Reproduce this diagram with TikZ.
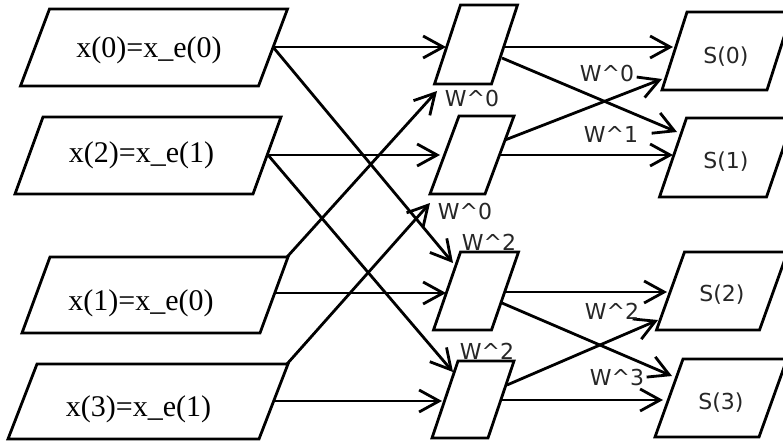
\documentclass[tikz,border=0pt]{standalone}
\usepackage{fontspec}
\setmainfont{Liberation Serif}
\newfontfamily\lblfont{DejaVu Sans}
\usetikzlibrary{arrows.meta}
\newcommand\pgram[6]{% name, cx, cy, w, h, slant
  \draw[box] ({#2-#4/2+#6/2},{#3-#5/2}) -- ({#2+#4/2+#6/2},{#3-#5/2})
    -- ({#2+#4/2-#6/2},{#3+#5/2}) -- ({#2-#4/2-#6/2},{#3+#5/2}) -- cycle;
  \coordinate (#1) at (#2,#3);}
\begin{document}
\begin{tikzpicture}[x=1pt,y=-1pt,
  box/.style={draw=black, line width=2.8pt, fill=white, line join=miter},
  conn/.style={line width=2.8pt, -{Straight Barb[length=20pt,width=22pt]}},
  intext/.style={font=\fontsize{30}{32}\selectfont, inner sep=0pt},
  outtext/.style={font=\lblfont\fontsize{22}{24}\selectfont, inner sep=0pt, text=black!85},
  wlbl/.style={font=\lblfont\fontsize{22}{24}\selectfont, inner sep=0pt, text=black!85}]
\useasboundingbox (0,0) rectangle (783,441);
\begin{scope}
\clip (0,0) rectangle (783,441);
% boxes
\pgram{X0}{154}{47.5}{238}{77}{29}
\pgram{X2}{148}{155.5}{238}{77}{28}
\pgram{X1}{155}{295}{238}{76}{28}
\pgram{X3}{148}{401.5}{251}{75}{29}
\pgram{B1}{476}{44.5}{57}{79}{26}
\pgram{B2}{472}{155}{55}{78}{29}
\pgram{B3}{476}{291}{58}{78}{27}
\pgram{B4}{473}{399.5}{56}{77}{26}
\pgram{S0}{727}{51}{105}{78}{25}
\pgram{S1}{726.5}{157.5}{107}{79}{27}
\pgram{S2}{722}{291}{103}{78}{28}
\pgram{S3}{721}{398}{104}{78}{28}
\end{scope}
% texts
\node[intext] (tx0) at (149,50.5) {x(0)=x\_e(0)};
\node[intext] (tx2) at (141.5,155.5) {x(2)=x\_e(1)};
\node[intext] (tx1) at (141,303) {x(1)=x\_e(0)};
\node[intext] (tx3) at (138.5,409) {x(3)=x\_e(1)};
\node[outtext] (ts0) at (726,57) {S(0)};
\node[outtext] (ts1) at (726,162) {S(1)};
\node[outtext] (ts2) at (722,295) {S(2)};
\node[outtext] (ts3) at (721,403) {S(3)};
% ports
\coordinate (x0e) at (273,47);
\coordinate (x2e) at (268,155);
\coordinate (x1e) at (274,293);
\coordinate (x1c) at (287,257);
\coordinate (x3e) at (274,401);
\coordinate (x3c) at (287,364);
\coordinate (b1w) at (446,47);
\coordinate (b1s) at (437,91);
\coordinate (b2w) at (440,155);
\coordinate (b2s) at (430,203);
\coordinate (b3n) at (453,263);
\coordinate (b3w) at (446,293);
\coordinate (b4n) at (453,372);
\coordinate (b4w) at (442,401);
\coordinate (b1e) at (505,47);
\coordinate (b1d) at (502,58);
\coordinate (b2u) at (505,140);
\coordinate (b2e) at (500,155);
\coordinate (b3e) at (504,292);
\coordinate (b3d) at (502,303);
\coordinate (b4u) at (507,385);
\coordinate (b4e) at (502,400);
\coordinate (s0w) at (673,47);
\coordinate (s0l) at (662,79);
\coordinate (s1u) at (677,132);
\coordinate (s1w) at (673,155);
\coordinate (s2w) at (667,292);
\coordinate (s2l) at (658,320);
\coordinate (s3u) at (672,376);
\coordinate (s3w) at (663,400);
% first stage
\draw[conn] (x0e) -- (b1w);
\draw[conn] (x0e) -- (b3n);
\draw[conn] (x2e) -- (b2w);
\draw[conn] (x2e) -- (b4n);
\draw[conn] (x1e) -- (b3w);
\draw[conn] (x1c) -- (b1s);
\draw[conn] (x3e) -- (b4w);
\draw[conn] (x3c) -- (b2s);
% second stage
\draw[conn] (b1e) -- (s0w);
\draw[conn] (b1d) -- (s1u);
\draw[conn] (b2u) -- (s0l);
\draw[conn] (b2e) -- (s1w);
\draw[conn] (b3e) -- (s2w);
\draw[conn] (b3d) -- (s3u);
\draw[conn] (b4u) -- (s2l);
\draw[conn] (b4e) -- (s3w);
% twiddle labels
\node[wlbl] (w1) at (472,98) {W\^{}0};
\node[wlbl] (w2) at (465,211) {W\^{}0};
\node[wlbl] (w3) at (489,242) {W\^{}2};
\node[wlbl] (w4) at (487,351) {W\^{}2};
\node[wlbl] (w5) at (607,73) {W\^{}0};
\node[wlbl] (w6) at (611,134) {W\^{}1};
\node[wlbl] (w7) at (612,311) {W\^{}2};
\node[wlbl] (w8) at (617,377) {W\^{}3};
\end{tikzpicture}
\end{document}
